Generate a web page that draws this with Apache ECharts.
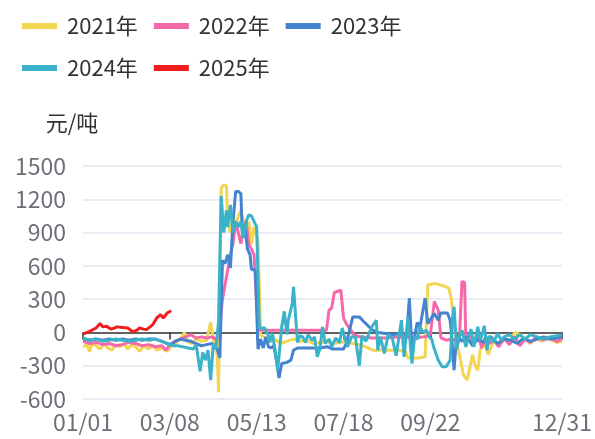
<!DOCTYPE html>
<html><head><meta charset="utf-8">
<script src="https://cdn.jsdelivr.net/npm/echarts@6/dist/echarts.min.js"></script>
<style>html,body{margin:0;padding:0;background:#fff}#c{width:595px;height:439px}</style>
</head><body><div id="c"></div>
<script>
// categories: day-of-year labels
const days = [];
(function(){const m=[31,28,31,30,31,30,31,31,30,31,30,31];for(let i=0;i<12;i++){for(let d=1;d<=m[i];d++){days.push(String(i+1).padStart(2,'0')+'/'+String(d).padStart(2,'0'));}}})();
const seriesNames = ['2021年','2022年','2023年','2024年','2025年'];
const yTicks = [-600,-300,0,300,600,900,1200,1500];

// [day index, value] pairs
const s2021 = [[0,-130],[3,-110],[5,-175],[7,-100],[10,-120],[13,-150],[16,-100],[19,-140],[22,-160],[25,-110],[28,-130],[31,-100],[34,-150],[37,-110],[40,-130],[43,-170],[46,-120],[50,-150],[53,-110],[56,-160],[60,-140],[64,-170],[67,-120],[70,-100],[74,-60],[77,0],[79,-80],[83,-100],[86,-60],[90,-80],[94,-70],[97,90],[100,-120],[102,-200],[103,-540],[105,1300],[107,1330],[109,1320],[110,1000],[112,900],[114,1050],[116,950],[118,1050],[120,1100],[122,1000],[124,900],[126,1000],[128,800],[130,950],[133,820],[135,-20],[138,-50],[142,-80],[146,-60],[150,-100],[155,-80],[160,-60],[165,-80],[170,-70],[175,-100],[180,-90],[185,-80],[190,-100],[195,-90],[200,-80],[205,-100],[210,-110],[215,-130],[220,-160],[230,-160],[240,-160],[245,-170],[247,-230],[255,-230],[260,-220],[262,430],[268,440],[274,420],[278,400],[280,300],[282,60],[284,-100],[287,-250],[289,-380],[292,-430],[294,-320],[296,-200],[298,-300],[300,-340],[302,-150],[305,-100],[308,-200],[312,-80],[316,-120],[320,-60],[324,-100],[328,0],[332,-20],[336,-60],[340,-100],[344,-50],[348,-80],[352,-40],[356,-70],[360,-90],[364,-80]];
const s2022 = [[0,-80],[5,-100],[10,-90],[15,-110],[20,-100],[25,-120],[30,-110],[35,-90],[40,-100],[45,-120],[50,-110],[55,-130],[60,-120],[63,-160],[66,-110],[70,-80],[74,-60],[78,-40],[82,-20],[86,-50],[90,-40],[94,-50],[98,-40],[101,-60],[103,-40],[106,300],[109,500],[112,700],[114,800],[116,1000],[118,900],[120,800],[122,950],[124,1000],[126,800],[128,750],[130,700],[133,30],[136,20],[150,20],[170,20],[185,20],[187,200],[189,220],[191,360],[196,380],[198,130],[200,80],[203,30],[206,-20],[210,-40],[220,-50],[230,-50],[240,-40],[250,-50],[260,-40],[264,-20],[267,280],[270,200],[272,-50],[276,-70],[280,-60],[286,-80],[288,460],[290,450],[291,-100],[294,0],[297,-100],[300,-20],[303,-140],[306,-30],[309,-100],[312,-60],[316,-130],[320,-50],[324,-110],[328,-40],[332,-120],[336,-60],[340,-90],[345,-40],[350,-70],[355,-50],[360,-80],[364,-60]];
const s2023 = [[0,-60],[5,-70],[10,-60],[15,-70],[20,-60],[25,-70],[30,-60],[35,-70],[40,-60],[45,-70],[50,-60],[55,-60],[60,-80],[64,-100],[67,-110],[70,-80],[74,-60],[78,-70],[82,-80],[86,-100],[90,-120],[94,-110],[98,-100],[102,-150],[104,-230],[106,650],[108,620],[110,700],[112,580],[114,1000],[116,1270],[118,1270],[120,1250],[121,900],[123,950],[125,750],[127,700],[128,570],[131,560],[133,-150],[135,-60],[137,-140],[139,-40],[141,-130],[143,-140],[145,-120],[147,-250],[149,-410],[151,-280],[155,-270],[158,-250],[160,-160],[163,-140],[170,-140],[180,-140],[186,-130],[190,-150],[198,-150],[200,-100],[203,40],[205,140],[210,140],[214,90],[220,20],[224,0],[230,-10],[235,-20],[240,-10],[246,-30],[248,310],[250,-160],[254,90],[256,40],[260,310],[262,80],[267,170],[270,110],[272,175],[277,175],[279,110],[280,0],[282,-340],[284,-20],[288,-80],[292,-40],[296,-120],[300,-60],[305,-90],[310,-40],[315,-100],[320,-60],[325,-70],[330,-100],[335,-50],[340,-80],[345,-60],[350,-40],[355,-60],[360,-50],[364,-40]];
const s2024 = [[0,-50],[5,-70],[10,-60],[15,-80],[20,-70],[25,-60],[30,-70],[35,-80],[40,-70],[45,-60],[50,-70],[55,-60],[60,-80],[64,-100],[68,-120],[72,-120],[76,-130],[80,-140],[84,-150],[86,-110],[89,-350],[91,-180],[93,-250],[95,-160],[97,-430],[99,-100],[101,-150],[103,100],[105,1230],[107,900],[109,1100],[110,950],[112,1150],[114,900],[116,1000],[118,950],[120,1000],[122,850],[124,1000],[126,1060],[128,1050],[130,1000],[132,950],[134,40],[138,40],[141,-30],[142,-90],[144,-10],[146,-160],[148,-340],[151,50],[153,190],[155,-20],[156,110],[159,260],[160,410],[163,-90],[165,-30],[167,-40],[169,-90],[171,-20],[174,-70],[176,-40],[178,-220],[180,-150],[182,50],[184,-100],[187,-60],[189,-130],[192,-50],[195,-90],[197,40],[199,-50],[201,-130],[204,-40],[207,-40],[210,-300],[212,-30],[215,-80],[218,10],[220,60],[223,110],[224,-160],[226,-40],[229,-190],[232,-20],[235,-50],[238,-210],[242,110],[244,-220],[247,140],[250,-280],[252,-40],[254,-60],[256,60],[258,0],[261,20],[263,-40],[265,-60],[267,-150],[270,-250],[273,-310],[276,-310],[279,-250],[281,140],[282,230],[284,-150],[286,-40],[288,20],[291,-130],[293,-40],[295,30],[297,-130],[300,50],[302,-70],[305,60],[307,-160],[309,-30],[312,-90],[315,-10],[318,-70],[320,-40],[324,-20],[328,-60],[332,-20],[336,-60],[340,-20],[345,-40],[350,-60],[355,-40],[360,-30],[364,-20]];
const s2025 = [[0,-15],[5,10],[10,40],[13,80],[15,50],[18,55],[21,30],[24,40],[26,50],[30,45],[34,40],[38,5],[41,20],[43,40],[46,30],[48,25],[51,50],[53,70],[56,130],[59,160],[61,130],[64,175],[67,195]];

const colors = ['#f2d550','#f569aa','#4582d0','#3ab2c8','#f01e1e'];
const allData = [s2021,s2022,s2023,s2024,s2025];

const chart = echarts.init(document.getElementById('c'), null, {renderer:'canvas'});
const font = '"Noto Sans CJK SC","Noto Sans",sans-serif';
chart.setOption({
  animation:false,
  color: colors,
  textStyle:{fontFamily:font},
  legend:{
    left:17, top:8, width:430,
    itemWidth:35, itemHeight:6, itemGap:16, icon:'rect',
    textStyle:{fontSize:22, color:'#333', fontFamily:font, padding:[0,0,0,5], lineHeight:26},
    data: seriesNames
  },
  grid:{left:83, right:32, top:166, bottom:40, containLabel:false},
  xAxis:{
    type:'category', data:days, boundaryGap:false,
    axisLine:{lineStyle:{color:'#333', width:1.5}},
    axisTick:{length:7, lineStyle:{color:'#333', width:1.5}, interval:(i)=> i%66===0 || i===364},
    axisLabel:{fontSize:23, color:'#6e7079', margin:12, fontFamily:font,
      interval:(i)=> (i%66===0 && i<330) || i===364, showMaxLabel:true},
    splitLine:{show:false}
  },
  yAxis:{
    type:'value', min:yTicks[0], max:yTicks[yTicks.length-1], interval:300,
    name:'元/吨', nameLocation:'end', nameGap:32,
    nameTextStyle:{fontSize:22, color:'#333', align:'center', padding:[0,22,0,0], fontFamily:font},
    axisLine:{show:false}, axisTick:{show:false},
    axisLabel:{fontSize:23, color:'#6e7079', margin:17, fontFamily:font, formatter:(v)=>String(v)},
    splitLine:{lineStyle:{color:'#e0e6f1', width:1.5}}
  },
  series: seriesNames.map((n,i)=>({
    name:n, type:'line', data:allData[i], showSymbol:false, symbol:'none',
    lineStyle:{width:3, color:colors[i]}, itemStyle:{color:colors[i]}, z: 2+i
  }))
});
</script></body></html>
